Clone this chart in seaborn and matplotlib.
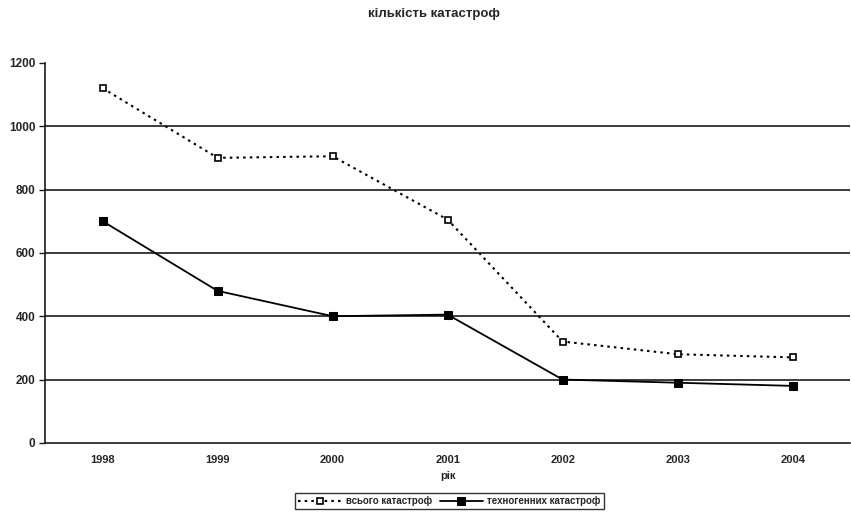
import pandas as pd
import matplotlib
matplotlib.use("Agg")
import matplotlib.pyplot as plt
import seaborn as sns

years = ["1998", "1999", "2000", "2001", "2002", "2003", "2004"]
total = [1120, 900, 905, 705, 320, 280, 270]
technogenic = [700, 480, 400, 405, 200, 190, 180]
series_names = ["всього катастроф", "техногенних катастроф"]

df = pd.DataFrame({
    "рік": years * 2,
    "кількість": total + technogenic,
    "серія": [series_names[0]] * len(years) + [series_names[1]] * len(years),
})

sns.set_style("white")
plt.rcParams["font.family"] = ["Liberation Sans", "DejaVu Sans"]

fig = plt.figure(figsize=(8.51, 5.15), dpi=100)
ax = fig.add_axes([0.053, 0.14, 0.946, 0.738])

sns.lineplot(data=df[df["серія"] == series_names[0]], x="рік", y="кількість",
             ax=ax, color="black", linestyle=(0, (1.2, 2.0)), linewidth=1.5,
             marker="s", markersize=5, markerfacecolor="white",
             markeredgecolor="black", markeredgewidth=1.2,
             label=series_names[0], sort=False)
sns.lineplot(data=df[df["серія"] == series_names[1]], x="рік", y="кількість",
             ax=ax, color="black", linestyle="-", linewidth=1.3,
             marker="s", markersize=5.5, markerfacecolor="black",
             markeredgecolor="black", label=series_names[1], sort=False)

ax.set_xlim(-0.5, len(years) - 0.5)
ax.set_ylim(0, 1200)
ax.set_yticks(range(0, 1201, 200))

# horizontal gridlines only between the ends of the axis
for v in range(200, 1200, 200):
    ax.axhline(v, color="#1a1a1a", linewidth=1.2, zorder=0)

for side in ["top", "right"]:
    ax.spines[side].set_visible(False)
for side in ["left", "bottom"]:
    ax.spines[side].set_color("#1a1a1a")
    ax.spines[side].set_linewidth(1.2)

ax.tick_params(axis="y", direction="out", length=4, width=1, color="#1a1a1a",
               labelsize=8.5, pad=3, left=True)
ax.tick_params(axis="x", length=0, labelsize=8, pad=9)
for lab in ax.get_xticklabels() + ax.get_yticklabels():
    lab.set_fontweight("bold")

ax.set_ylabel("")
ax.set_xlabel("рік", fontsize=8, fontweight="bold", labelpad=4)
fig.suptitle("кількість катастроф", fontsize=9.5, fontweight="bold",
             x=0.51, y=0.985)

ax.get_legend().remove()
handles, labels = ax.get_legend_handles_labels()
leg = fig.legend(handles, labels, loc="center", bbox_to_anchor=(0.528, 0.027),
                 ncol=2, fontsize=7, frameon=True, fancybox=False,
                 edgecolor="black", handlelength=4.5, columnspacing=0.8,
                 handletextpad=0.4, borderpad=0.3, borderaxespad=0)
leg.get_frame().set_linewidth(1.0)
for t in leg.get_texts():
    t.set_fontweight("bold")

fig.savefig("out.png", dpi=100, facecolor="white")
